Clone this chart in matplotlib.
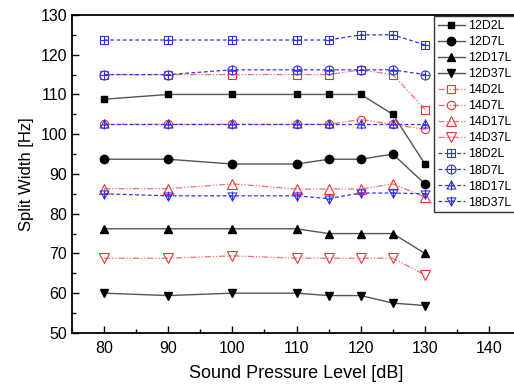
import matplotlib
matplotlib.use("Agg")
import matplotlib.pyplot as plt
from matplotlib.path import Path
from matplotlib.ticker import MultipleLocator

plt.rcParams['font.family'] = ['Liberation Sans', 'DejaVu Sans']

spl = [80, 90, 100, 110, 115, 120, 125, 130]

s12D2L = [108.8, 110, 110, 110, 110, 110, 105, 92.5]
s12D7L = [93.7, 93.7, 92.5, 92.5, 93.7, 93.7, 95, 87.5]
s12D17L = [76.2, 76.2, 76.2, 76.2, 75, 75, 75, 70]
s12D37L = [60, 59.4, 60, 60, 59.4, 59.4, 57.5, 56.9]
s14D2L = [115, 115, 115, 115, 115, 116.2, 115, 106.2]
s14D7L = [102.5, 102.5, 102.5, 102.5, 102.5, 103.7, 102.5, 101.2]
s14D17L = [86.3, 86.3, 87.5, 86.2, 86.2, 86.2, 87.5, 84.2]
s14D37L = [68.8, 68.8, 69.4, 68.8, 68.8, 68.8, 68.8, 64.6]
s18D2L = [123.7, 123.7, 123.7, 123.7, 123.7, 125, 125, 122.5]
s18D7L = [115, 115, 116.2, 116.2, 116.2, 116.2, 116.2, 115]
s18D17L = [102.5, 102.5, 102.5, 102.5, 102.5, 102.5, 102.5, 102.5]
s18D37L = [85, 84.5, 84.5, 84.5, 83.8, 85.2, 85.2, 85]

labels = ['12D2L', '12D7L', '12D17L', '12D37L', '14D2L', '14D7L', '14D17L', '14D37L',
          '18D2L', '18D7L', '18D17L', '18D37L']
series = [s12D2L, s12D7L, s12D17L, s12D37L, s14D2L, s14D7L, s14D17L, s14D37L,
          s18D2L, s18D7L, s18D17L, s18D37L]


def plus_path(base):
    cross = Path([(-1, 0), (1, 0), (0, -1), (0, 1)],
                 [Path.MOVETO, Path.LINETO, Path.MOVETO, Path.LINETO])
    return Path.make_compound_path(base, cross)


sq = Path([(-1, -1), (1, -1), (1, 1), (-1, 1), (-1, -1)],
          [Path.MOVETO, Path.LINETO, Path.LINETO, Path.LINETO, Path.CLOSEPOLY])
circ = Path.circle((0, 0), 1.0)
tri_up = Path([(0, 1), (-1, -0.8), (1, -0.8), (0, 1)],
              [Path.MOVETO, Path.LINETO, Path.LINETO, Path.CLOSEPOLY])
tri_dn = Path([(0, -1), (-1, 0.8), (1, 0.8), (0, -1)],
              [Path.MOVETO, Path.LINETO, Path.LINETO, Path.CLOSEPOLY])
tri_up_p = Path.make_compound_path(tri_up, Path([(-0.6, -0.1), (0.6, -0.1), (0, -1.1), (0, 1.1)],
                                   [Path.MOVETO, Path.LINETO, Path.MOVETO, Path.LINETO]))
tri_dn_p = Path.make_compound_path(tri_dn, Path([(-0.6, 0.1), (0.6, 0.1), (0, -1.1), (0, 1.1)],
                                   [Path.MOVETO, Path.LINETO, Path.MOVETO, Path.LINETO]))

fig = plt.figure(figsize=(5.14, 3.84), dpi=100)
ax = fig.add_axes([0.140, 0.133, 0.874, 0.828])

dashdotdot = (0, (5, 1.5, 1, 1.5, 1, 1.5))
styles = []
for m, s in zip(['s', 'o', '^', 'v'], [5, 6, 5.8, 5.8]):
    styles.append(dict(color='#555555', ls='-', marker=m, mfc='black', mec='black', ms=s, lw=1.0))
for m, s in zip(['s', 'o', '^', 'v'], [5.5, 6, 7, 7]):
    styles.append(dict(color='#f07070', ls=dashdotdot, marker=m, mfc='none', mec='#ee3333',
                       ms=s, lw=0.9, mew=0.8))
for m, s in zip([plus_path(sq), plus_path(circ), tri_up_p, tri_dn_p], [5.5, 6.5, 7, 7]):
    styles.append(dict(color='#3333ee', ls=(0, (3, 2)), marker=m, mfc='none', mec='#3333ee',
                       ms=s, lw=0.9, mew=0.8))

handles = []
for lab, ys, st in zip(labels, series, styles):
    h, = ax.plot(spl, ys, label=lab, **st)
    handles.append(h)

ax.set_xlim(75, 145)
ax.set_ylim(50, 130)
ax.xaxis.set_major_locator(MultipleLocator(10))
ax.xaxis.set_minor_locator(MultipleLocator(5))
ax.yaxis.set_major_locator(MultipleLocator(10))
ax.yaxis.set_minor_locator(MultipleLocator(5))
ax.tick_params(which='both', direction='in', labelsize=11.5, top=False, right=False)
ax.tick_params(which='major', length=5, width=1)
ax.tick_params(which='minor', length=3, width=1)
ax.tick_params(axis='x', pad=6)
for sp in ax.spines.values():
    sp.set_linewidth(1.3)
ax.set_xlabel('Sound Pressure Level [dB]', fontsize=13, labelpad=6)
ax.set_ylabel('Split Width [Hz]', fontsize=12, labelpad=5)

leg = fig.legend(handles=handles, loc='upper left', bbox_to_anchor=(0.844, 0.958),
                 fontsize=8.9, frameon=True, fancybox=False, edgecolor='black',
                 handlelength=2.2, handletextpad=0.25, borderpad=0.3, labelspacing=0.33,
                 borderaxespad=0)
leg.get_frame().set_linewidth(1.0)

fig.savefig('out.png', dpi=100)
